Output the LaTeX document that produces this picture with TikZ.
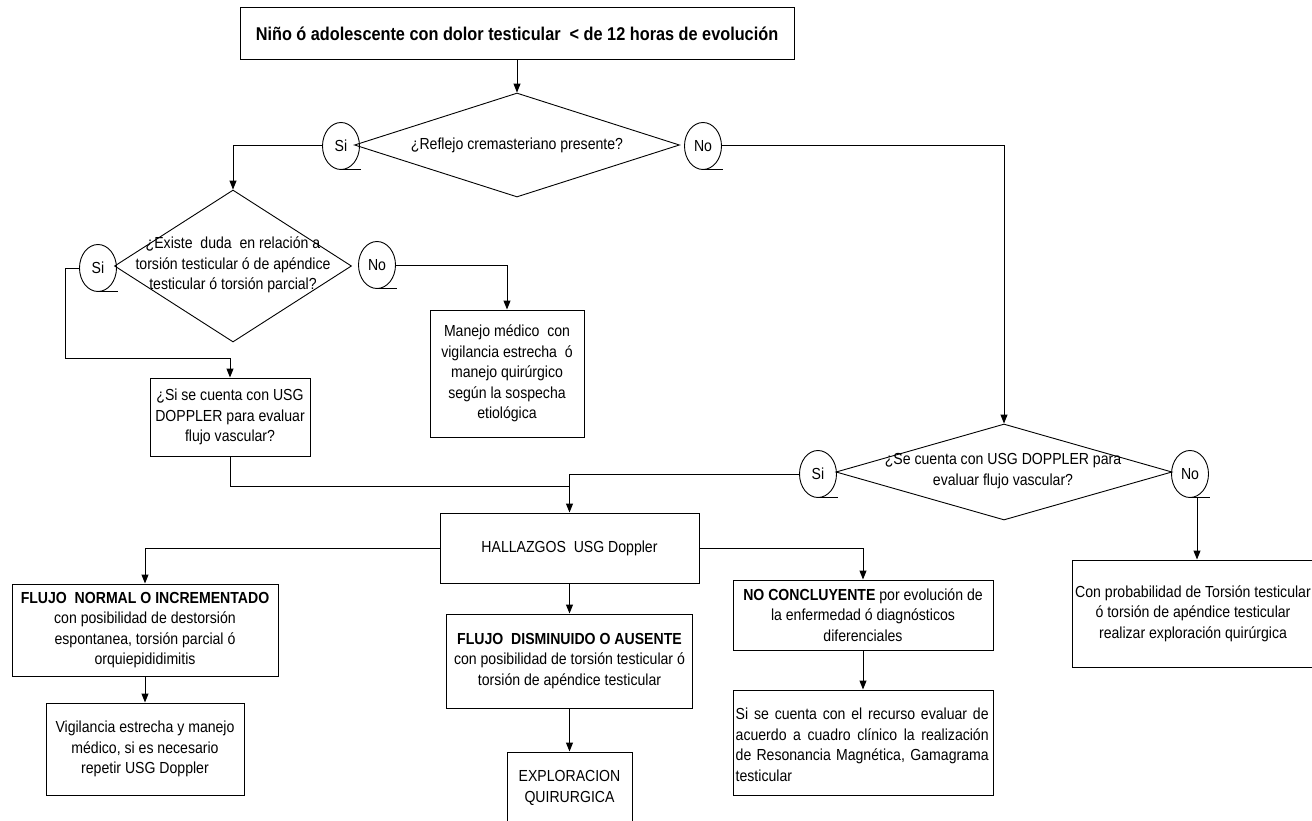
\documentclass[tikz,border=0pt]{standalone}
\usepackage{fontspec}
\setmainfont{Liberation Sans}[FakeStretch=0.88]
\usetikzlibrary{arrows.meta,shapes.geometric}
\begin{document}
\begin{tikzpicture}[x=1pt,y=-1pt,
  every node/.style={font=\fontsize{16}{20.5}\selectfont},
  box/.style={draw, line width=1pt, inner sep=0pt, align=center},
  dia/.style={draw, diamond, line width=0.9pt, inner sep=0pt},
  yn/.style={draw, ellipse, line width=0.9pt, minimum width=37pt, minimum height=47pt, inner sep=0pt},
  arr/.style={line width=1pt, -{Triangle[length=9pt,width=7pt]}},
  ln/.style={line width=1pt}]
\useasboundingbox (0,0) rectangle (1312,821);
\fill[white] (0,0) rectangle (1312,821);
\clip (0,0) rectangle (1312,821);

% top box
\node[box, minimum width=554pt, minimum height=52pt, font=\fontsize{18.5}{22}\selectfont\bfseries] (top) at (517,34)
  {Niño ó adolescente con dolor testicular\ \ < de 12 horas de evolución};

% decision 1
\node[dia, minimum width=325pt, minimum height=104pt] (d1) at (517,145) {};
\node (d1t) at (517,145) {¿Reflejo cremasteriano presente?};
\node[yn] (s1) at (341,146) {Si};
\node[yn] (n1) at (703,146) {No};

% decision 2
\node[dia, minimum width=237pt, minimum height=152pt] (d2) at (233,266) {};
\node[align=center] (d2t) at (233,265) {¿Existe\ \ duda\ \ en relación a\\torsión testicular ó de apéndice\\testicular ó torsión parcial?};
\node[yn] (s2) at (98,268) {Si};
\node[yn] (n2) at (377,265) {No};

% boxes below decision 2
\node[box, minimum width=160pt, minimum height=78pt] (usg) at (230,417)
  {¿Si se cuenta con USG\\DOPPLER para evaluar\\flujo vascular?};
\node[box, minimum width=154pt, minimum height=127pt] (man) at (507,373.5)
  {Manejo médico\ \ con\\vigilancia estrecha\ \ ó\\manejo quirúrgico\\según la sospecha\\etiológica};

% decision 3
\node[dia, minimum width=336pt, minimum height=96pt] (d3) at (1004,472) {};
\node[align=center] (d3t) at (1003,471) {¿Se cuenta con USG DOPPLER para\\evaluar flujo vascular?};
\node[yn] (s3) at (818,474) {Si};
\node[yn] (n3) at (1190,474) {No};

% findings
\node[box, minimum width=259pt, minimum height=70pt] (hal) at (569.5,548) {HALLAZGOS\ \ USG Doppler};
\node[box, minimum width=266pt, minimum height=92pt] (fn) at (145,630)
  {\textbf{FLUJO\ \ NORMAL O INCREMENTADO}\\con posibilidad de destorsión\\espontanea, torsión parcial ó\\orquiepididimitis};
\node[box, minimum width=198pt, minimum height=92pt] (vig) at (145,749)
  {Vigilancia estrecha y manejo\\médico, si es necesario\\repetir USG Doppler};
\node[box, minimum width=246pt, minimum height=94pt] (fd) at (569.5,661)
  {\textbf{FLUJO\ \ DISMINUIDO O AUSENTE}\\con posibilidad de torsión testicular ó\\torsión de apéndice testicular};
\node[box, minimum width=125pt, minimum height=72pt] (exp) at (569.5,788)
  {EXPLORACION\\QUIRURGICA};
\node[box, minimum width=260pt, minimum height=70pt] (nc) at (863,615)
  {\textbf{NO CONCLUYENTE} por evolución de\\la enfermedad ó diagnósticos\\diferenciales};
\node[box, minimum width=260pt, minimum height=105pt] (sic) at (863,742.5) {};
\node[align=left, anchor=north west, inner sep=0pt] (sict) at (735.5,708)
  {\makebox[253pt][s]{Si se cuenta con el recurso evaluar de}\\
   \makebox[253pt][s]{acuerdo a cuadro clínico la realización}\\
   \makebox[253pt][s]{de Resonancia Magnética, Gamagrama}\\
   testicular};
\node[box, minimum width=248pt, minimum height=107pt] (rt) at (1196,613.5) {};
\node[align=center] (rtt) at (1193,613.5)
  {Con probabilidad de Torsión testicular\\ó torsión de apéndice testicular\\realizar exploración quirúrgica};

% tails under circles
\foreach \c in {s1,n1,s2,n2,s3,n3} \draw[ln] (\c.south) -- ++(20,0);

% connectors
\coordinate (a1) at (65,358);
\coordinate (m1) at (569.5,486);
\coordinate (t3) at (1197,497.5);
\draw[arr] (top.south) -- (d1.north);
\draw[arr] (s1.west) -| (d2.north);
\draw[arr] (n1.east) -| (d3.north);
\draw[arr] (s2.west) -| (a1) -| (usg.north);
\draw[arr] (n2.east) -| (man.north);
\draw[ln] (usg.south) |- (m1);
\draw[arr] (s3.west) -| (hal.north);
\draw[arr] (t3) -- (t3 |- rt.north);
\draw[arr] (hal.west) -| (fn.north);
\draw[arr] (hal.east) -| (nc.north);
\draw[arr] (hal.south) -- (fd.north);
\draw[arr] (fd.south) -- (exp.north);
\draw[arr] (fn.south) -- (vig.north);
\draw[arr] (nc.south) -- (sic.north);
\end{tikzpicture}
\end{document}
